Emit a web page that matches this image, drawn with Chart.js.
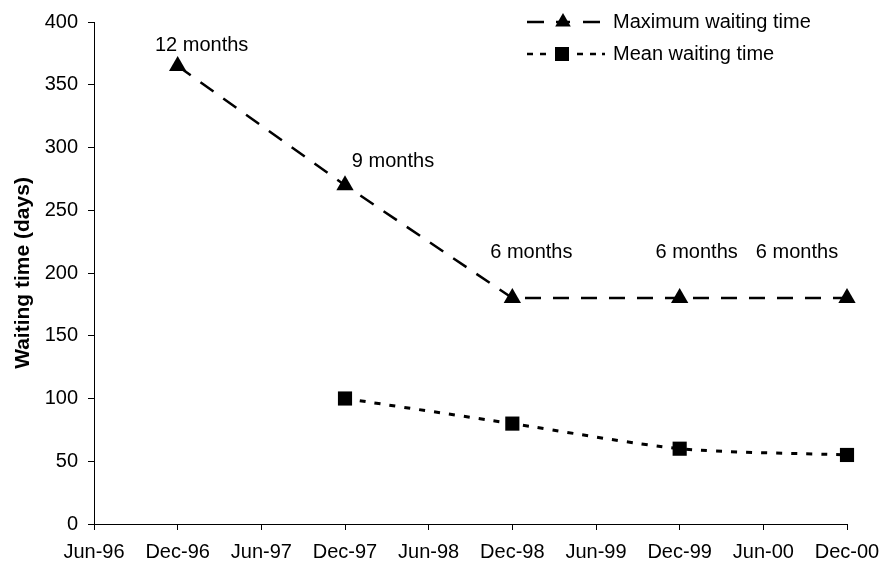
<!DOCTYPE html>
<html>
<head>
<meta charset="utf-8">
<script src="https://cdn.jsdelivr.net/npm/chart.js@4/dist/chart.umd.min.js"></script>
<style>
html,body{margin:0;padding:0;background:#fff;}
#wrap{width:887px;height:569px;position:relative;}
</style>
</head>
<body>
<div id="wrap"><canvas id="c" width="887" height="569"></canvas></div>
<script>
const categories = ['Jun-96','Dec-96','Jun-97','Dec-97','Jun-98','Dec-98','Jun-99','Dec-99','Jun-00','Dec-00'];
const maxWaiting = [null, 365, null, 270, null, 180, null, 180, null, 180];
const meanWaiting = [null, null, null, 100, null, 80, null, 60, null, 55];
const maxLabels = [null, '12 months', null, '9 months', null, '6 months', null, '6 months', null, '6 months'];
const yTicks = [0, 50, 100, 150, 200, 250, 300, 350, 400];

const FONT = '"Liberation Sans", Arial, sans-serif';
const labelOffsets = {1:[24,-20], 3:[48,-24], 5:[19,-46], 7:[17,-46], 9:[-50,-46]};

const pointLabels = {
  id: 'pointLabels',
  afterDatasetsDraw(chart) {
    const ctx = chart.ctx;
    const meta = chart.getDatasetMeta(0);
    ctx.save();
    ctx.font = '20px ' + FONT;
    ctx.fillStyle = '#000';
    ctx.textAlign = 'center';
    ctx.textBaseline = 'middle';
    maxLabels.forEach((t, i) => {
      if (!t) return;
      const p = meta.data[i];
      const o = labelOffsets[i];
      ctx.fillText(t, p.x + o[0], p.y + o[1]);
    });
    ctx.restore();
  }
};

const customLegend = {
  id: 'customLegend',
  afterDraw(chart) {
    const ctx = chart.ctx;
    ctx.save();
    ctx.strokeStyle = '#000';
    ctx.fillStyle = '#000';
    ctx.lineWidth = 2.5;
    // Max
    let y = 22;
    ctx.setLineDash([]);
    ctx.beginPath();
    [[527,544],[556,570],[583,600]].forEach(s => { ctx.moveTo(s[0], y); ctx.lineTo(s[1], y); });
    ctx.stroke();
    ctx.beginPath();
    const r = 9;
    ctx.moveTo(563, y - r); ctx.lineTo(563 + r*0.866, y + r*0.5); ctx.lineTo(563 - r*0.866, y + r*0.5); ctx.closePath(); ctx.fill();
    // Mean
    y = 54;
    ctx.beginPath();
    [[527,533],[540,546],[577,583],[590,596],[602,605]].forEach(s => { ctx.moveTo(s[0], y); ctx.lineTo(s[1], y); });
    ctx.stroke();
    ctx.fillRect(555, y - 7, 14, 14);
    ctx.font = '20px ' + FONT;
    ctx.textAlign = 'left';
    ctx.textBaseline = 'middle';
    ctx.fillText('Maximum waiting time', 613, 22);
    ctx.fillText('Mean waiting time', 613, 54);
    ctx.restore();
  }
};

new Chart(document.getElementById('c'), {
  type: 'line',
  data: {
    labels: categories,
    datasets: [
      {
        label: 'Maximum waiting time',
        data: maxWaiting,
        borderColor: '#000',
        backgroundColor: '#000',
        borderWidth: 2.5,
        borderDash: [16, 12],
        pointStyle: 'triangle',
        pointRadius: 10,
        pointBackgroundColor: '#000',
        pointBorderWidth: 0,
        spanGaps: true,
        tension: 0
      },
      {
        label: 'Mean waiting time',
        data: meanWaiting,
        borderColor: '#000',
        backgroundColor: '#000',
        borderWidth: 3,
        borderDash: [6, 9],
        pointStyle: 'rect',
        pointRadius: 10,
        pointBackgroundColor: '#000',
        pointBorderWidth: 0,
        spanGaps: true,
        tension: 0.25
      }
    ]
  },
  options: {
    responsive: false,
    animation: false,
    layout: { padding: { top: 22, right: 40, left: 0, bottom: 0 } },
    plugins: { legend: { display: false }, tooltip: { enabled: false } },
    scales: {
      x: {
        offset: false,
        grid: { drawOnChartArea: false, drawTicks: true, tickLength: 6, color: '#000' },
        border: { color: '#000', width: 1 },
        ticks: { color: '#000', font: { family: FONT, size: 20 }, padding: 10, maxRotation: 0, autoSkip: false },
        afterFit(s) { s.height = 45; s.paddingRight = 0; s.paddingLeft = 0; }
      },
      y: {
        min: 0, max: 400,
        afterBuildTicks(s) { s.ticks = yTicks.map(v => ({ value: v })); },
        grid: { drawOnChartArea: false, drawTicks: true, tickLength: 6, color: '#000' },
        border: { color: '#000', width: 1 },
        ticks: { color: '#000', font: { family: FONT, size: 20 }, padding: 10 },
        title: { display: true, text: 'Waiting time (days)', color: '#000', font: { family: FONT, size: 21, weight: 'bold' }, padding: { top: 11, bottom: 0 } },
        afterFit(s) { s.width = 94; }
      }
    }
  },
  plugins: [pointLabels, customLegend]
});
</script>
</body>
</html>
